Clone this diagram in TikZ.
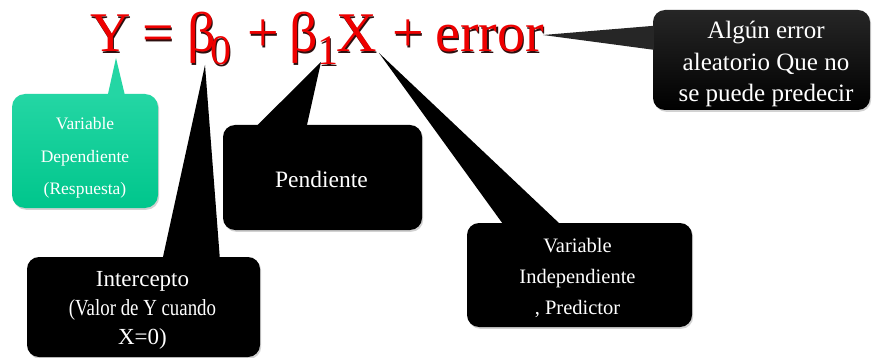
\documentclass[tikz,border=0pt]{standalone}
\usepackage{fontspec}
\usepackage{graphicx}
\setmainfont{Liberation Serif}
\usetikzlibrary{shadows,calc}
\definecolor{eqred}{RGB}{238,0,0}
\definecolor{eqshadow}{RGB}{45,15,15}
\definecolor{greentop}{RGB}{36,214,164}
\definecolor{greenbot}{RGB}{0,198,140}
\definecolor{errtop}{RGB}{38,38,38}
\newcommand\shtxt[1]{\rlap{\kern1.4pt\raisebox{-1.4pt}{\textcolor{eqshadow}{#1}}}\textcolor{eqred}{#1}}
\begin{document}
\begin{tikzpicture}[x=1pt,y=-1pt,
  eq/.style={inner sep=0pt,anchor=base west,font=\fontsize{56}{56}\selectfont},
  eqsub/.style={inner sep=0pt,anchor=base west,font=\fontsize{42}{42}\selectfont},
  boxshadow/.style={drop shadow={opacity=0.35,shadow xshift=1.2pt,shadow yshift=-1.8pt}},
  blackbox/.style={fill=black,rounded corners=12pt,inner sep=0pt,boxshadow},
  greenbox/.style={top color=greentop,bottom color=greenbot,rounded corners=13pt,inner sep=0pt,boxshadow},
  errbox/.style={top color=errtop,bottom color=black,rounded corners=12pt,inner sep=0pt,boxshadow},
  boxtext/.style={text=white,align=center,inner sep=0pt}
]
\useasboundingbox (0,0) rectangle (872,358);
\fill[white] (0,0) rectangle (872,358);

% equation
\node[eq] (eqY) at (90,52) {\shtxt{Y}};
\node[eq] (eqEq) at (142,52) {\shtxt{=}};
\node[eq] (eqB0) at (187,52) {\shtxt{β}};
\node[eqsub] (eqS0) at (210,65) {\shtxt{0}};
\node[eq] (eqP1) at (247,52) {\shtxt{+}};
\node[eq] (eqB1) at (289,52) {\shtxt{β}};
\node[eqsub] (eqS1) at (317,65) {\shtxt{1}};
\node[eq] (eqX) at (336,52) {\shtxt{X}};
\node[eq] (eqP2) at (392,52) {\shtxt{+}};
\node[eq] (eqErr) at (435,52) {\shtxt{error}};

% pointer tips
\coordinate (tipY) at (116,58);
\coordinate (tipB0) at (205,65);
\coordinate (tipB1) at (321,62);
\coordinate (tipX) at (379,53);
\coordinate (tipErr) at (543,35);

% boxes
\node[greenbox,minimum width=146pt,minimum height=114pt] (gbox) at (85,151) {};
\node[blackbox,minimum width=199pt,minimum height=105pt] (pbox) at (322.5,177.5) {};
\node[blackbox,minimum width=233pt,minimum height=100pt] (ibox) at (143.5,307) {};
\node[blackbox,minimum width=225pt,minimum height=104pt] (vbox) at (579.5,275) {};
\node[errbox,minimum width=217pt,minimum height=100pt] (ebox) at (761.5,60) {};

% pointers
\fill[greentop] (tipY) -- ($(gbox.north west)+(96,1)$) -- ($(gbox.north west)+(113,1)$) -- cycle;
\fill[black] (tipB0) -- ($(ibox.north west)+(136,1)$) -- ($(ibox.north west)+(193,1)$) -- cycle;
\fill[black] (tipB1) -- ($(pbox.north west)+(34,1)$) -- ($(pbox.north west)+(84,1)$) -- cycle;
\fill[black] (tipX) -- ($(vbox.north west)+(36,1)$) -- ($(vbox.north west)+(93,1)$) -- cycle;
\fill[errtop] (tipErr) -- ($(ebox.north west)+(1,16)$) -- ($(ebox.north west)+(1,40)$) -- cycle;

% texts
\node[boxtext,font=\fontsize{17.5}{32.5}\selectfont] (gtext) at (85,158) {Variable\\Dependiente\\(Respuesta)};
\node[boxtext,font=\fontsize{23.5}{28}\selectfont] (ptext) at (321.5,179) {Pendiente};
\node[boxtext,font=\fontsize{23}{29}\selectfont] (itext) at (142.5,310) {Intercepto\\\scalebox{0.82}[1]{(Valor de Y cuando}\\X=0)};
\node[boxtext,font=\fontsize{20.5}{31}\selectfont] (vtext) at (577.5,278) {Variable\\Independiente\\, Predictor};
\node[boxtext,font=\fontsize{25}{31.5}\selectfont] (etext) at (766,64) {Algún error\\aleatorio Que no\\se puede predecir};
\end{tikzpicture}
\end{document}
